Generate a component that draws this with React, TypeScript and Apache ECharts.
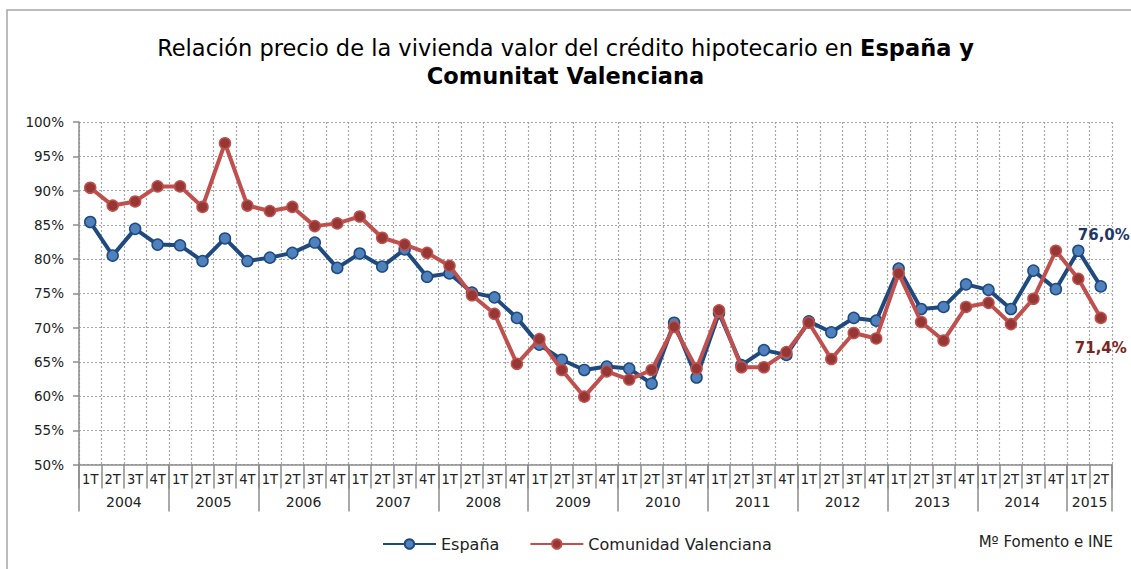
import React, { useEffect, useRef } from 'react';
import * as echarts from 'echarts';

const YEARS = ['2004', '2005', '2006', '2007', '2008', '2009', '2010', '2011', '2012', '2013', '2014', '2015'];
const QUARTERS = ['1T', '2T', '3T', '4T'];
const QUARTERS_PER_YEAR = [4, 4, 4, 4, 4, 4, 4, 4, 4, 4, 4, 2];

const ESPANA = [
  85.4, 80.5, 84.4, 82.1, 82.0, 79.7, 83.0, 79.7, 80.2, 80.9,
  82.4, 78.7, 80.8, 78.9, 81.4, 77.4, 77.9, 75.1, 74.4, 71.4,
  67.5, 65.3, 63.8, 64.3, 64.0, 61.8, 70.7, 62.7, 72.1, 64.5,
  66.7, 66.0, 70.9, 69.3, 71.4, 71.0, 78.6, 72.7, 73.0, 76.3,
  75.5, 72.7, 78.3, 75.6, 81.2, 76.0,
];
const VALENCIANA = [
  90.4, 87.8, 88.4, 90.6, 90.6, 87.6, 96.9, 87.8, 87.0, 87.6,
  84.8, 85.2, 86.2, 83.1, 82.1, 80.9, 79.0, 74.7, 72.0, 64.7,
  68.3, 63.8, 59.9, 63.6, 62.4, 63.8, 70.1, 64.0, 72.5, 64.2,
  64.2, 66.4, 70.7, 65.4, 69.2, 68.4, 77.9, 70.8, 68.1, 73.0,
  73.6, 70.5, 74.2, 81.2, 77.1, 71.4,
];
const Y_MIN = 50;
const Y_MAX = 100;
const Y_STEP = 5;

const FONT = '"DejaVu Sans", "Liberation Sans", sans-serif';
const NARROW = '"Liberation Sans Narrow", "DejaVu Sans Condensed", "DejaVu Sans", sans-serif';

export default function App() {
  const ref = useRef<HTMLDivElement>(null);
  useEffect(() => {
    const chart = echarts.init(ref.current!, null, { renderer: 'svg' });
    const categories: string[] = [];
    const yearBounds: number[] = [];
    const yearCenters: number[] = [];
    let idx = 0;
    YEARS.forEach((y, k) => {
      yearBounds.push(idx);
      yearCenters.push(idx + QUARTERS_PER_YEAR[k] / 2);
      for (let q = 0; q < QUARTERS_PER_YEAR[k]; q++) categories.push(QUARTERS[q]);
      idx += QUARTERS_PER_YEAR[k];
    });
    yearBounds.push(idx);
    const total = idx;
    const fmtPct = (v: number) => v.toFixed(1).replace('.', ',') + '%';
    const last = ESPANA.length - 1;

    const gridLine = { show: true, lineStyle: { color: '#a6a6a6', width: 1.2, type: [2, 2] as any } };
    const axisGray = '#8c8c8c';

    chart.setOption({
      animation: false,
      backgroundColor: '#ffffff',
      title: {
        text: '{n|Relación precio de la vivienda valor del crédito hipotecario en }{b|España y}\n{b|Comunitat Valenciana}',
        left: 'center',
        top: 29,
        textStyle: {
          rich: {
            n: { fontFamily: FONT, fontSize: 22.5, color: '#000', lineHeight: 28, fontWeight: 'normal' },
            b: { fontFamily: FONT, fontSize: 22.5, color: '#000', lineHeight: 28, fontWeight: 'bold' },
          },
        },
      },
      graphic: [
        {
          type: 'rect',
          shape: { x: 7, y: 10, width: 1300, height: 800 },
          style: { fill: 'none', stroke: '#a6a6a6', lineWidth: 1.5 },
          silent: true,
        },
        {
          type: 'text',
          right: 18,
          top: 534,
          style: { text: 'Mº Fomento e INE', fontFamily: FONT, fontSize: 15, fill: '#222' },
        },
      ],
      legend: {
        left: 382,
        top: 536,
        padding: 0,
        itemWidth: 53,
        itemHeight: 12,
        itemGap: 30,
        textStyle: { fontFamily: FONT, fontSize: 16, color: '#222' },
        data: ['España', 'Comunidad Valenciana'],
      },
      grid: { left: 79, right: 19, top: 122, bottom: 104.5, containLabel: false },
      xAxis: [
        {
          type: 'category',
          data: categories,
          boundaryGap: true,
          position: 'bottom',
          axisLine: { show: true, lineStyle: { color: axisGray, width: 1.5 } },
          axisTick: { show: true, interval: 0, length: 24, lineStyle: { color: axisGray, width: 1.5 } },
          axisLabel: { interval: 0, margin: 7, fontFamily: NARROW, fontSize: 14.5, color: '#222' },
          splitLine: { ...gridLine, interval: 0 },
        },
        {
          type: 'value',
          min: 0,
          max: total,
          position: 'bottom',
          axisLine: { show: false },
          axisTick: { show: true, customValues: yearBounds, length: 47, lineStyle: { color: axisGray, width: 1.5 } },
          axisLabel: {
            customValues: yearCenters,
            margin: 30,
            fontFamily: FONT,
            fontSize: 14,
            color: '#222',
            formatter: (v: number) => {
              const k = yearCenters.indexOf(v);
              return k >= 0 ? YEARS[k] : '';
            },
          },
          splitLine: { show: false },
        },
      ],
      yAxis: {
        type: 'value',
        min: Y_MIN,
        max: Y_MAX,
        interval: Y_STEP,
        axisLine: { show: true, lineStyle: { color: axisGray, width: 1.5 } },
        axisTick: { show: true, length: 6, lineStyle: { color: axisGray, width: 1.5 } },
        axisLabel: { margin: 15, fontFamily: FONT, fontSize: 13.5, color: '#222', formatter: (v: number) => v + '%' },
        splitLine: gridLine,
      },
      series: [
        {
          name: 'España',
          type: 'line',
          xAxisIndex: 0,
          symbol: 'circle',
          symbolSize: 11,
          lineStyle: { color: '#1f4a80', width: 4 },
          itemStyle: { color: '#4f81bd', borderColor: '#1f4a80', borderWidth: 1.5 },
          z: 3,
          data: ESPANA.map((v, i) =>
            i === last
              ? {
                  value: v,
                  label: {
                    show: true,
                    position: 'top',
                    distance: 5,
                    offset: [3, -33],
                    formatter: () => fmtPct(v),
                    fontFamily: FONT,
                    fontWeight: 'bold',
                    fontSize: 15,
                    color: '#1f3864',
                  },
                }
              : v
          ),
        },
        {
          name: 'Comunidad Valenciana',
          type: 'line',
          xAxisIndex: 0,
          symbol: 'circle',
          symbolSize: 11,
          lineStyle: { color: '#c0504d', width: 4 },
          itemStyle: { color: '#953735', borderColor: '#c0504d', borderWidth: 1.5 },
          z: 4,
          data: VALENCIANA.map((v, i) =>
            i === last
              ? {
                  value: v,
                  label: {
                    show: true,
                    position: 'bottom',
                    distance: 5,
                    offset: [0, 11],
                    formatter: () => fmtPct(v),
                    fontFamily: FONT,
                    fontWeight: 'bold',
                    fontSize: 15,
                    color: '#7b2522',
                  },
                }
              : v
          ),
        },
      ],
    });
    return () => chart.dispose();
  }, []);
  return <div ref={ref} style={{ position: 'fixed', left: 0, top: 0, width: 1131, height: 569 }} />;
}
